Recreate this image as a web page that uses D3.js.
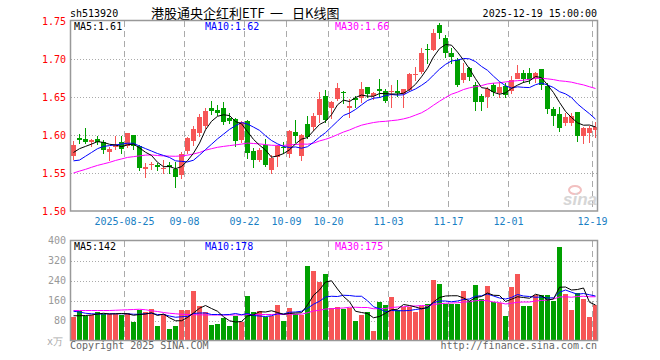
<!DOCTYPE html>
<html>
<head>
<meta charset="utf-8">
<title>港股通央企红利ETF 日K线图</title>
<script src="https://d3js.org/d3.v7.min.js"></script>
<style>
  body { margin: 0; background: #fff; }
  #chart { display: block; }
</style>
</head>
<body>
<div id="chart"></div>
<script>
// trading days shown (88 sessions)
var dates = [
  "2025-08-12","2025-08-13","2025-08-14","2025-08-15","2025-08-18","2025-08-19","2025-08-20","2025-08-21","2025-08-22",
  "2025-08-25","2025-08-26","2025-08-27","2025-08-28","2025-08-29",
  "2025-09-01","2025-09-02","2025-09-03","2025-09-04","2025-09-05",
  "2025-09-08","2025-09-09","2025-09-10","2025-09-11","2025-09-12",
  "2025-09-15","2025-09-16","2025-09-17","2025-09-18","2025-09-19",
  "2025-09-22","2025-09-23","2025-09-24","2025-09-25","2025-09-26",
  "2025-09-29","2025-09-30","2025-10-09","2025-10-10",
  "2025-10-13","2025-10-14","2025-10-15","2025-10-16","2025-10-17",
  "2025-10-20","2025-10-21","2025-10-22","2025-10-23","2025-10-24",
  "2025-10-27","2025-10-28","2025-10-29","2025-10-30","2025-10-31",
  "2025-11-03","2025-11-04","2025-11-05","2025-11-06","2025-11-07",
  "2025-11-10","2025-11-11","2025-11-12","2025-11-13","2025-11-14",
  "2025-11-17","2025-11-18","2025-11-19","2025-11-20","2025-11-21",
  "2025-11-24","2025-11-25","2025-11-26","2025-11-27","2025-11-28",
  "2025-12-01","2025-12-02","2025-12-03","2025-12-04","2025-12-05",
  "2025-12-08","2025-12-09","2025-12-10","2025-12-11","2025-12-12",
  "2025-12-15","2025-12-16","2025-12-17","2025-12-18","2025-12-19"
];

var open = [1.5728,1.5965,1.5947,1.5912,1.5947,1.5912,1.5780,1.5850,1.5912,1.5855,
  1.6000,1.5860,1.5557,1.5605,1.5605,1.5553,1.5605,1.5548,1.5470,1.5800,
  1.5912,1.6022,1.6118,1.6351,1.6329,1.6360,1.6219,1.6210,1.5934,1.6184,
  1.5794,1.5671,1.5868,1.5539,1.5715,1.5838,1.5759,1.6044,1.5728,1.6145,
  1.6110,1.6263,1.6518,1.6364,1.6482,1.6570,1.6360,1.6482,1.6482,1.6636,
  1.6513,1.6601,1.6583,1.6566,1.6579,1.6530,1.6596,1.6785,1.6820,1.7127,
  1.7127,1.7447,1.7272,1.7083,1.6987,1.6724,1.6877,1.6658,1.6513,1.6496,
  1.6658,1.6557,1.6645,1.6580,1.6746,1.6820,1.6820,1.6759,1.6864,1.6645,
  1.6338,1.6276,1.6154,1.6154,1.6307,1.5987,1.6031,1.6066];
var high = [1.5920,1.6013,1.6092,1.5952,1.5987,1.5934,1.5838,1.5987,1.5991,1.6031,
  1.6000,1.5868,1.5632,1.5649,1.5636,1.5671,1.5649,1.5650,1.5770,1.5975,
  1.6118,1.6276,1.6360,1.6447,1.6395,1.6430,1.6285,1.6219,1.6180,1.6197,
  1.5825,1.5825,1.5947,1.5737,1.5868,1.5912,1.6066,1.6197,1.6013,1.6250,
  1.6285,1.6560,1.6592,1.6452,1.6689,1.6579,1.6469,1.6513,1.6702,1.6636,
  1.6570,1.6737,1.6601,1.6658,1.6724,1.6601,1.6820,1.6890,1.7140,1.7197,
  1.7390,1.7469,1.7316,1.7140,1.7009,1.6943,1.6899,1.6702,1.6540,1.6636,
  1.6680,1.6702,1.6680,1.6776,1.6921,1.6855,1.6877,1.6833,1.6864,1.6680,
  1.6373,1.6373,1.6285,1.6294,1.6307,1.6110,1.6118,1.6175];
var low = [1.5684,1.5890,1.5890,1.5855,1.5877,1.5759,1.5671,1.5816,1.5768,1.5840,
  1.5811,1.5540,1.5452,1.5548,1.5540,1.5504,1.5496,1.5320,1.5440,1.5760,
  1.5868,1.5991,1.6088,1.6272,1.6263,1.6140,1.6153,1.5860,1.5912,1.5693,
  1.5583,1.5662,1.5592,1.5496,1.5592,1.5759,1.5706,1.5912,1.5671,1.5956,
  1.6066,1.6175,1.6175,1.6219,1.6460,1.6425,1.6241,1.6373,1.6430,1.6496,
  1.6469,1.6504,1.6439,1.6373,1.6513,1.6373,1.6583,1.6720,1.6810,1.6943,
  1.7118,1.7272,1.7030,1.6952,1.6649,1.6702,1.6724,1.6329,1.6329,1.6364,
  1.6526,1.6496,1.6504,1.6557,1.6746,1.6702,1.6680,1.6702,1.6601,1.6285,
  1.6132,1.6057,1.6132,1.6132,1.5925,1.5890,1.5912,1.5978];
var close = [1.5868,1.5939,1.5912,1.5934,1.5912,1.5811,1.5820,1.5870,1.5824,1.6031,
  1.5855,1.5570,1.5583,1.5614,1.5583,1.5570,1.5575,1.5443,1.5750,1.5965,
  1.6075,1.6232,1.6320,1.6307,1.6294,1.6175,1.6184,1.5921,1.6167,1.5768,
  1.5671,1.5803,1.5605,1.5693,1.5855,1.5820,1.6057,1.5991,1.6000,1.5969,
  1.6254,1.6474,1.6197,1.6439,1.6623,1.6561,1.6382,1.6460,1.6605,1.6548,
  1.6548,1.6570,1.6452,1.6579,1.6548,1.6601,1.6803,1.6803,1.7075,1.7110,
  1.7346,1.7346,1.7075,1.7031,1.6658,1.6820,1.6759,1.6439,1.6439,1.6601,
  1.6570,1.6636,1.6526,1.6730,1.6820,1.6746,1.6732,1.6820,1.6658,1.6338,
  1.6241,1.6088,1.6232,1.6250,1.5987,1.6088,1.6096,1.6110];

// price moving averages as drawn
var ma5 = [1.5770,1.5820,1.5850,1.5880,1.5913,1.5902,1.5878,1.5869,1.5847,1.5871,
  1.5880,1.5830,1.5773,1.5731,1.5641,1.5583,1.5585,1.5557,1.5584,1.5661,
  1.5761,1.5893,1.6068,1.6180,1.6246,1.6266,1.6256,1.6176,1.6148,1.6043,
  1.5942,1.5866,1.5803,1.5708,1.5725,1.5755,1.5806,1.5883,1.5945,1.5967,
  1.6054,1.6138,1.6179,1.6267,1.6397,1.6459,1.6440,1.6493,1.6526,1.6511,
  1.6509,1.6546,1.6545,1.6539,1.6539,1.6550,1.6597,1.6667,1.6766,1.6878,
  1.7027,1.7136,1.7190,1.7182,1.7091,1.6986,1.6869,1.6741,1.6623,1.6612,
  1.6562,1.6537,1.6554,1.6613,1.6656,1.6692,1.6711,1.6770,1.6755,1.6659,
  1.6558,1.6429,1.6311,1.6230,1.6160,1.6129,1.6131,1.6106];
var ma10 = [1.5660,1.5670,1.5720,1.5770,1.5820,1.5850,1.5860,1.5870,1.5880,
  1.5892,1.5891,1.5854,1.5821,1.5789,1.5756,1.5731,1.5704,1.5660,1.5653,
  1.5646,1.5668,1.5735,1.5808,1.5878,1.5949,1.6011,1.6074,1.6122,1.6164,
  1.6144,1.6104,1.6061,1.5990,1.5928,1.5884,1.5849,1.5836,1.5843,1.5826,
  1.5846,1.5905,1.5972,1.6031,1.6106,1.6182,1.6257,1.6289,1.6336,1.6396,
  1.6454,1.6484,1.6493,1.6519,1.6533,1.6525,1.6529,1.6571,1.6606,1.6653,
  1.6709,1.6789,1.6866,1.6929,1.6974,1.6985,1.7007,1.7002,1.6966,1.6902,
  1.6851,1.6774,1.6703,1.6648,1.6618,1.6634,1.6627,1.6624,1.6662,1.6684,
  1.6658,1.6625,1.6570,1.6541,1.6493,1.6409,1.6343,1.6280,1.6209];
var ma30 = [1.5500,1.5525,1.5548,1.5575,1.5600,1.5620,1.5640,1.5665,1.5685,1.5705,
  1.5715,1.5725,1.5735,1.5738,1.5730,1.5725,1.5722,1.5720,1.5725,1.5735,
  1.5750,1.5770,1.5800,1.5820,1.5838,1.5850,1.5860,1.5870,1.5880,
  1.5894,1.5888,1.5883,1.5873,1.5865,1.5863,1.5863,1.5871,1.5875,1.5881,
  1.5879,1.5892,1.5922,1.5943,1.5971,1.6005,1.6039,1.6066,1.6100,1.6129,
  1.6148,1.6164,1.6175,1.6180,1.6189,1.6197,1.6212,1.6232,1.6262,1.6292,
  1.6337,1.6392,1.6444,1.6493,1.6537,1.6564,1.6598,1.6621,1.6636,1.6650,
  1.6672,1.6682,1.6687,1.6698,1.6708,1.6715,1.6721,1.6733,1.6745,1.6746,
  1.6739,1.6729,1.6713,1.6706,1.6695,1.6676,1.6659,1.6635,1.6612];

// volume, in 万
var volume = [93,120,100,102,116,106,106,106,104,112,
  76,124,116,126,60,105,45,60,124,124,
  197,140,116,64,66,89,60,100,76,177,
  113,120,93,100,142,80,132,106,102,298,
  278,234,266,129,133,126,129,77,102,116,
  39,154,144,174,124,133,133,116,140,146,
  241,225,146,146,146,197,157,221,167,217,
  154,151,100,214,266,137,137,183,181,181,
  157,376,185,124,191,165,93,144];
var vma5 = [99,99,100,102,106,109,106,107,108,107,
  101,104,106,111,100,106,91,79,79,92,
  110,129,140,128,117,95,79,74,76,98,
  103,115,114,119,112,105,108,110,111,142,
  181,202,234,239,206,176,155,117,112,108,
  91,96,109,123,125,144,140,134,127,132,
  154,172,178,179,179,170,157,172,176,190,
  181,180,156,165,175,172,169,185,179,162,
  166,213,214,202,204,210,153,142];
var vma10 = [117,114,109,107,106,106,107,107,107,
  107,105,105,107,109,104,104,98,93,95,
  96,108,110,110,104,104,103,104,108,103,
  108,100,98,96,99,107,106,113,114,117,
  129,145,157,174,177,176,181,180,177,177,
  159,135,127,115,120,119,119,120,124,127,
  131,151,158,158,155,158,164,166,177,179,
  186,178,170,166,172,184,178,176,173,174,
  170,171,193,202,193,185,188,183,178];
var vma30 = [120,120,120,120,120,120,120,121,122,123,
  124,125,123,119,116,112,109,107,105,104,
  103,103,102,102,102,102,102,102,102,
  104,104,104,104,104,105,104,105,105,105,
  111,118,121,126,127,129,130,133,133,132,
  132,127,127,128,132,134,135,138,138,140,
  139,144,147,149,150,151,154,155,159,161,
  159,154,152,146,149,153,154,154,158,160,
  162,166,174,175,173,176,177,175,175];

var tickDates = ["2025-08-25","2025-09-08","2025-09-22","2025-10-09","2025-10-20","2025-11-03","2025-11-17","2025-12-01","2025-12-19"];
var tickLabels = ["2025-08-25","09-08","09-22","10-09","10-20","11-03","11-17","12-01","12-19"];
var priceTicks = [1.50, 1.55, 1.60, 1.65, 1.70, 1.75];
var volTicks = [80, 160, 240, 320, 400];

var RED = "#f65656", GREEN = "#00a000";
var mono = "'DejaVu Sans Mono','Liberation Mono',monospace";
var cjk = "'Noto Sans CJK SC',sans-serif";

var svg = d3.select("#chart").append("svg")
    .attr("width", 660).attr("height", 360)
    .style("font-family", mono).style("font-size", "10px");

var n = dates.length;
var x = d3.scaleLinear().domain([0, n]).range([70, 598]);
var y = d3.scaleLinear().domain([1.50, 1.75]).range([211, 21]);
var yv = d3.scaleLinear().domain([0, 400]).range([340.5, 240.5]);
var tickIdx = tickDates.map(function(d) { return dates.indexOf(d); });

/* grid */
var grid = svg.append("g").attr("shape-rendering", "crispEdges");
grid.selectAll("line.hp").data(priceTicks.slice(1, 5)).enter().append("line")
    .attr("x1", 71).attr("x2", 597)
    .attr("y1", function(d) { return Math.round(y(d)) + 0.5; })
    .attr("y2", function(d) { return Math.round(y(d)) + 0.5; })
    .attr("stroke", "#aaa").attr("stroke-dasharray", "1,2");
grid.selectAll("line.hv").data(volTicks.slice(0, 4)).enter().append("line")
    .attr("x1", 71).attr("x2", 597)
    .attr("y1", function(d) { return Math.round(yv(d)) + 0.5; })
    .attr("y2", function(d) { return Math.round(yv(d)) + 0.5; })
    .attr("stroke", "#aaa").attr("stroke-dasharray", "1,2");
tickIdx.forEach(function(i) {
  [[21, 211], [241, 340]].forEach(function(r) {
    grid.append("line")
      .attr("x1", x(i) + 0.5).attr("x2", x(i) + 0.5)
      .attr("y1", r[0]).attr("y2", r[1])
      .attr("stroke", "#aaa").attr("stroke-dasharray", "6,4");
  });
});

/* sina watermark */
svg.append("ellipse").attr("cx", 575).attr("cy", 190).attr("rx", 6).attr("ry", 4)
    .attr("fill", "none").attr("stroke", "#f2c0c0").attr("stroke-width", 2);
svg.append("text").attr("x", 563).attr("y", 205)
    .style("font-family", "'Liberation Sans',Arial,sans-serif")
    .style("font-size", "17px").style("font-style", "italic").style("font-weight", "bold")
    .attr("fill", "#d6d6d6").text("sina");

/* candles */
var idx = d3.range(n);
var candles = svg.append("g").attr("shape-rendering", "crispEdges");
candles.selectAll("line").data(idx).enter().append("line")
    .attr("x1", function(i) { return x(i) + 3.5; })
    .attr("x2", function(i) { return x(i) + 3.5; })
    .attr("y1", function(i) { return Math.round(y(high[i])); })
    .attr("y2", function(i) { return Math.round(y(low[i])) + 1; })
    .attr("stroke", function(i) { return close[i] >= open[i] ? RED : GREEN; });
candles.selectAll("rect").data(idx).enter().append("rect")
    .attr("x", function(i) { return x(i) + 1; })
    .attr("width", 5)
    .attr("y", function(i) { return Math.round(y(Math.max(open[i], close[i]))); })
    .attr("height", function(i) {
      return Math.max(1, Math.round(Math.abs(y(open[i]) - y(close[i]))));
    })
    .attr("fill", function(i) { return close[i] >= open[i] ? RED : GREEN; });

/* volume bars */
svg.append("g").attr("shape-rendering", "crispEdges")
  .selectAll("rect").data(idx).enter().append("rect")
    .attr("x", function(i) { return x(i) + 1; })
    .attr("width", 5)
    .attr("y", function(i) { return Math.round(yv(volume[i])); })
    .attr("height", function(i) { return 340 - Math.round(yv(volume[i])); })
    .attr("fill", function(i) { return close[i] >= open[i] ? RED : GREEN; });

/* moving average lines */
function maLine(sc) {
  return d3.line().x(function(d, i) { return x(i) + 3.5; }).y(function(d) { return sc(d); });
}
[[ma30, "#f0f"], [ma10, "#00f"], [ma5, "#000"]].forEach(function(s) {
  svg.append("path").datum(s[0]).attr("d", maLine(y))
    .attr("fill", "none").attr("stroke", s[1]).attr("stroke-width", 1);
});
[[vma30, "#f0f"], [vma10, "#00f"], [vma5, "#000"]].forEach(function(s) {
  svg.append("path").datum(s[0]).attr("d", maLine(yv))
    .attr("fill", "none").attr("stroke", s[1]).attr("stroke-width", 1);
});

/* frames */
svg.append("rect").attr("x", 70.5).attr("y", 20.5).attr("width", 527).attr("height", 190.5)
    .attr("fill", "none").attr("stroke", "#999").attr("stroke-width", 1.5);
svg.append("rect").attr("x", 70.5).attr("y", 240.5).attr("width", 527).attr("height", 100)
    .attr("fill", "none").attr("stroke", "#999").attr("stroke-width", 1.5);

/* axes */
var ay = svg.append("g").attr("transform", "translate(70,0)")
    .call(d3.axisLeft(y).tickValues(priceTicks).tickFormat(d3.format(".2f")).tickSize(0).tickPadding(4));
ay.select(".domain").remove();
ay.selectAll("text").attr("fill", "#f00").style("font-family", mono).style("font-size", "10px");

var av = svg.append("g").attr("transform", "translate(70,0)")
    .call(d3.axisLeft(yv).tickValues(volTicks).tickFormat(d3.format("d")).tickSize(0).tickPadding(4));
av.select(".domain").remove();
av.selectAll("text").attr("fill", "#999").style("font-family", mono).style("font-size", "10px");

var ax = svg.append("g").attr("transform", "translate(0,211)")
    .call(d3.axisBottom(x).tickValues(tickIdx)
      .tickFormat(function(d, i) { return tickLabels[i]; }).tickSize(0).tickPadding(7));
ax.select(".domain").remove();
ax.selectAll("text").attr("fill", "#1a80c4").style("font-family", mono).style("font-size", "10px");

svg.append("text").attr("x", 63).attr("y", 345).attr("text-anchor", "end")
    .attr("fill", "#aaa").style("font-size", "10px").text("x万");

/* titles and legends */
svg.append("text").attr("x", 70).attr("y", 16.5).attr("fill", "#000").text("sh513920");
var title = svg.append("g").style("font-family", cjk).style("font-size", "13px").attr("fill", "#000");
title.append("text").attr("x", 151).attr("y", 17.5).text("港股通央企红利ETF");
title.append("text").attr("x", 270).attr("y", 17.5).text("一");
title.append("text").attr("x", 292).attr("y", 17.5).text("日K线图");
svg.append("text").attr("x", 597).attr("y", 16.5).attr("text-anchor", "end")
    .attr("fill", "#000").text("2025-12-19 15:00:00");

var f2 = d3.format(".2f"), f0 = d3.format("d");
svg.append("text").attr("x", 74).attr("y", 30).attr("fill", "#000").text("MA5:" + f2(ma5[n - 1]));
svg.append("text").attr("x", 205).attr("y", 30).attr("fill", "#00f").text("MA10:" + f2(ma10[n - 1]));
svg.append("text").attr("x", 335).attr("y", 30).attr("fill", "#f0f").text("MA30:" + f2(ma30[n - 1]));
svg.append("text").attr("x", 74).attr("y", 250).attr("fill", "#000").text("MA5:" + f0(vma5[n - 1]));
svg.append("text").attr("x", 205).attr("y", 250).attr("fill", "#00f").text("MA10:" + f0(vma10[n - 1]));
svg.append("text").attr("x", 335).attr("y", 250).attr("fill", "#f0f").text("MA30:" + f0(vma30[n - 1]));

svg.append("text").attr("x", 70).attr("y", 349).attr("fill", "#666").text("Copyright 2025 SINA.COM");
svg.append("text").attr("x", 597).attr("y", 349).attr("text-anchor", "end")
    .attr("fill", "#666").text("http://finance.sina.com.cn");
</script>
</body>
</html>
